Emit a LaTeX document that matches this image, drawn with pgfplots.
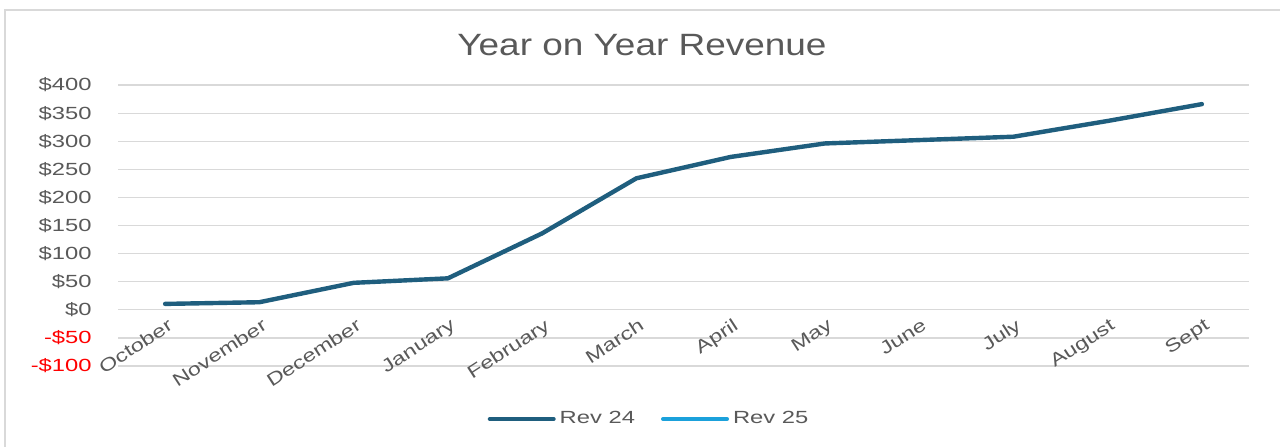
\documentclass[border=0pt]{standalone}
\usepackage{pgfplots}
\pgfplotsset{compat=1.18}
\usepackage{fontspec}
\setmainfont{Liberation Sans}
\newfontfamily\tickfont[FakeStretch=1.35]{Liberation Sans}
\newfontfamily\xlabfont[FakeStretch=1.3]{Liberation Sans}
\newfontfamily\titlefont[FakeStretch=1.2]{Liberation Sans}
\definecolor{txtgray}{HTML}{595959}
\definecolor{gridgray}{HTML}{D9D9D9}
\definecolor{rev24}{RGB}{31,94,126}
\definecolor{rev25}{HTML}{1BA1DB}
\definecolor{negred}{HTML}{FF0000}
\begin{document}
\begin{tikzpicture}
\path[use as bounding box] (0,0) rectangle (640pt,223pt);
\draw[gridgray, line width=1pt] (2.5pt,-20pt) rectangle (660pt,218pt);
\node[anchor=base, text=txtgray, font=\titlefont\fontsize{15.4}{18}\selectfont, inner sep=0] at (321pt,195.5pt) {Year on Year Revenue};
\begin{axis}[
  at={(59pt,40pt)}, anchor=south west,
  width=565.5pt, height=140.5pt, scale only axis,
  xmin=-0.5, xmax=11.5, ymin=-100, ymax=400,
  axis line style={draw=none},
  major tick length=0pt,
  ymajorgrids, grid style={gridgray, line width=0.6pt},
  ytick={-100,-50,0,50,100,150,200,250,300,350,400},
  yticklabels={\textcolor{negred}{-\$100},\textcolor{negred}{-\$50},\$0,\$50,\$100,\$150,\$200,\$250,\$300,\$350,\$400},
  yticklabel style={font=\tickfont\fontsize{8.8}{10}\selectfont, text=txtgray, anchor=east, inner sep=0pt, xshift=-13pt},
  xtick={0,1,2,3,4,5,6,7,8,9,10,11},
  xticklabels={October,November,December,January,February,March,April,May,June,July,August,Sept},
  xticklabel style={font=\xlabfont\fontsize{9}{10}\selectfont, text=txtgray, rotate=33, anchor=north east, inner sep=0pt, yshift=20pt, xshift=14pt},
  legend columns=2,
  legend style={at={(0.4704,-0.1886)}, anchor=center, draw=none, fill=none,
    font=\tickfont\fontsize{8.8}{10}\selectfont, text=txtgray,
    /tikz/every even column/.append style={column sep=11pt}},
  legend cell align=left,
  legend image code/.code={\draw[line width=2pt, line cap=round] (0pt,0pt) -- (32pt,0pt);},
  clip=false,
]
\addplot[rev24, line width=2.2pt, line cap=round, line join=round] coordinates {
(0,10.5) (1,13.5) (2,48) (3,56) (4,136) (5,234) (6,272) (7,296) (8,302) (9,308) (10,336) (11,366)
};
\addlegendentry{Rev 24}
\addlegendimage{rev25, line width=2pt}
\addlegendentry{Rev 25}
\end{axis}
\end{tikzpicture}
\end{document}
